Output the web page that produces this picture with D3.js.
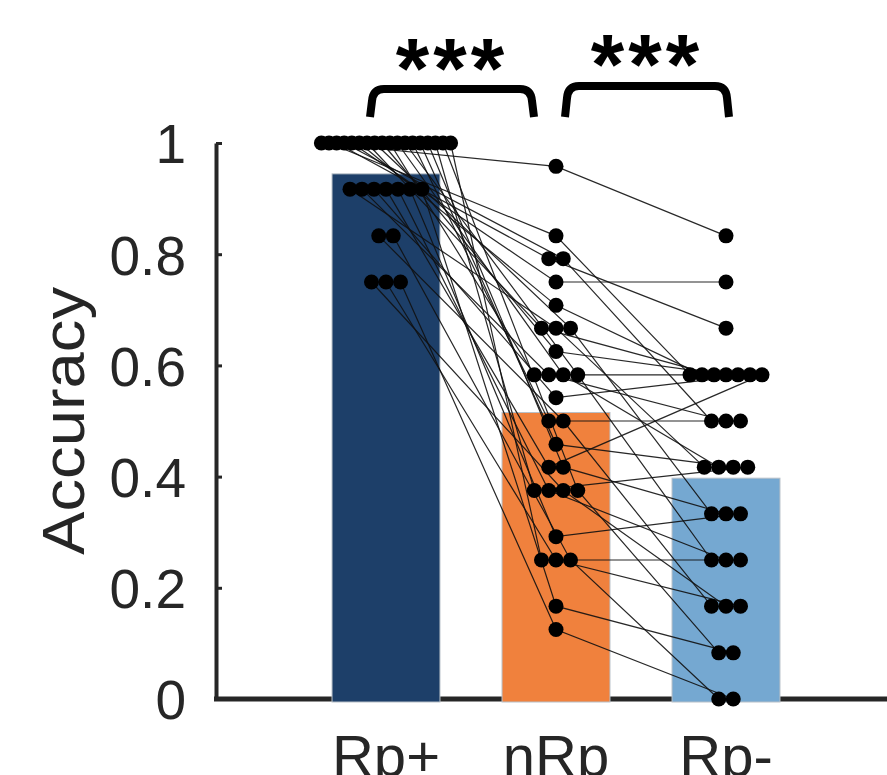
<!DOCTYPE html>
<html lang="en">
<meta charset="utf-8">
<title>Accuracy by condition</title>
<style>
  body { margin: 0; background: #fff; }
  svg { display: block; font-family: "Liberation Sans", Arial, sans-serif; }
</style>
<body>
<script src="https://d3js.org/d3.v7.min.js"></script>
<script>
  // categories and per-subject accuracy (same subject order in each array)
  var categories = ["Rp+", "nRp", "Rp-"];
  var rpPlus = [1, 1, 1, 1, 1, 1, 1, 0.917, 1, 1,
                1, 0.917, 1, 1, 0.917, 1, 0.833, 1, 0.917, 1,
                1, 0.917, 0.75, 1, 0.917, 1, 0.75, 0.833, 0.917, 0.75];
  var nRp = [0.958, 0.833, 0.792, 0.792, 0.75, 0.708, 0.667, 0.667, 0.667, 0.625,
             0.583, 0.583, 0.583, 0.583, 0.542, 0.5, 0.5, 0.458, 0.417, 0.417,
             0.375, 0.375, 0.375, 0.375, 0.292, 0.25, 0.25, 0.25, 0.167, 0.125];
  var rpMinus = [0.833, 0.583, 0.667, 0.5, 0.75, 0.583, 0.583, 0.417, 0.333, 0.583,
                 0.583, 0.5, 0.417, 0.25, 0.583, 0.5, 0.167, 0.417, 0.583, 0.333,
                 0.417, 0.25, 0.167, 0.083, 0.333, 0.25, 0.167, 0, 0.083, 0];
  var yTicks = [0, 0.2, 0.4, 0.6, 0.8, 1];
  var yTickLabels = ["0", "0.2", "0.4", "0.6", "0.8", "1"];
  var sigLabels = ["***", "***"];
  var barColors = ["#1d3f69", "#f0813d", "#75a8d1"];

  var width = 887, height = 775;
  var x = d3.scaleLinear().domain([0, 4]).range([216, 896]);
  var y = d3.scaleLinear().domain([0, 1]).range([699, 143]);
  var axisColor = "#262626";

  var svg = d3.select("body").append("svg")
    .attr("width", width)
    .attr("height", height);

  // y axis: inward ticks, no domain end caps
  var yAxis = svg.append("g")
    .attr("transform", "translate(" + x(0) + ",0)")
    .call(d3.axisRight(y).tickValues(yTicks).tickSize(6).tickSizeOuter(0)
      .tickFormat(function(d, i) { return yTickLabels[i]; }));
  yAxis.select(".domain").attr("stroke", axisColor).attr("stroke-width", 4);
  yAxis.selectAll(".tick line").attr("stroke", axisColor).attr("stroke-width", 3);
  yAxis.selectAll(".tick text")
    .attr("x", -30)
    .attr("dy", "0.36em")
    .attr("text-anchor", "end")
    .attr("fill", axisColor)
    .style("font-size", "55px");

  // x axis baseline running off the right edge
  svg.append("line")
    .attr("x1", x(0) - 2).attr("x2", x(4))
    .attr("y1", y(0)).attr("y2", y(0))
    .attr("stroke", axisColor).attr("stroke-width", 5);

  svg.selectAll(".xlab")
    .data(categories)
    .enter().append("text")
    .attr("class", "xlab")
    .attr("x", function(d, i) { return x(i + 1); })
    .attr("y", 776)
    .attr("text-anchor", "middle")
    .attr("fill", axisColor)
    .style("font-size", "58px")
    .text(function(d) { return d; });

  svg.append("text")
    .attr("transform", "translate(84," + y(0.5) + ") rotate(-90)")
    .attr("text-anchor", "middle")
    .attr("fill", axisColor)
    .attr("textLength", 268)
    .attr("lengthAdjust", "spacingAndGlyphs")
    .style("font-size", "60px")
    .text("Accuracy");

  // bars of the group means
  var groups = [rpPlus, nRp, rpMinus];
  var barW = 0.635;
  svg.selectAll(".bar")
    .data(groups)
    .enter().append("rect")
    .attr("class", "bar")
    .attr("x", function(d, i) { return x(i + 1 - barW / 2); })
    .attr("width", x(barW) - x(0))
    .attr("y", function(d) { return y(d3.mean(d)); })
    .attr("height", function(d) { return y(0) - y(d3.mean(d)) + 3; })
    .attr("fill", function(d, i) { return barColors[i]; })
    .attr("stroke", "#b8c0c8")
    .attr("stroke-width", 1);

  // spread dots that share a value side by side
  function spacing(n) { return n <= 4 ? 14.5 : n <= 7 ? 12 : 7.6; }
  var offsets = groups.map(function(vals) {
    var offs = new Array(vals.length);
    d3.group(d3.range(vals.length), function(i) { return vals[i]; })
      .forEach(function(idx) {
        var n = idx.length, s = spacing(n);
        idx.forEach(function(i, k) { offs[i] = (k - (n - 1) / 2) * s; });
      });
    return offs;
  });
  function px(g, i) { return x(g + 1) + offsets[g][i]; }

  // subject lines
  var line = d3.line();
  svg.selectAll(".subj")
    .data(d3.range(rpPlus.length))
    .enter().append("path")
    .attr("class", "subj")
    .attr("d", function(i) {
      return line(groups.map(function(vals, g) { return [px(g, i), y(vals[i])]; }));
    })
    .attr("fill", "none")
    .attr("stroke", "#111")
    .attr("stroke-width", 1.2)
    .attr("stroke-opacity", 0.9);

  groups.forEach(function(vals, g) {
    svg.selectAll(".dot" + g)
      .data(vals)
      .enter().append("circle")
      .attr("cx", function(d, i) { return px(g, i); })
      .attr("cy", function(d) { return y(d); })
      .attr("r", 7.5)
      .attr("fill", "#000");
  });

  // significance brackets
  var brackets = [
    { a: 0, b: 1, da: -16, db: -22, top: 89, txtY: 98 },
    { a: 1, b: 2, da: 9, db: 3, top: 86, txtY: 94 }
  ];
  brackets.forEach(function(b, k) {
    var x1 = x(b.a + 1) + b.da, x2 = x(b.b + 1) + b.db, bot = 117;
    svg.append("path")
      .attr("d", "M" + x1 + "," + bot + " L" + (x1 + 2) + "," + (b.top + 12) +
        " Q" + (x1 + 3) + "," + b.top + " " + (x1 + 14) + "," + b.top +
        " L" + (x2 - 14) + "," + b.top +
        " Q" + (x2 - 3) + "," + b.top + " " + (x2 - 2) + "," + (b.top + 12) +
        " L" + x2 + "," + bot)
      .attr("fill", "none")
      .attr("stroke", "#000")
      .attr("stroke-width", 8);
    svg.append("text")
      .attr("x", (x1 + x2) / 2)
      .attr("y", b.txtY)
      .attr("text-anchor", "middle")
      .attr("letter-spacing", 4)
      .style("font-size", "86px")
      .style("font-weight", "bold")
      .text(sigLabels[k]);
  });
</script>
</body>
</html>
